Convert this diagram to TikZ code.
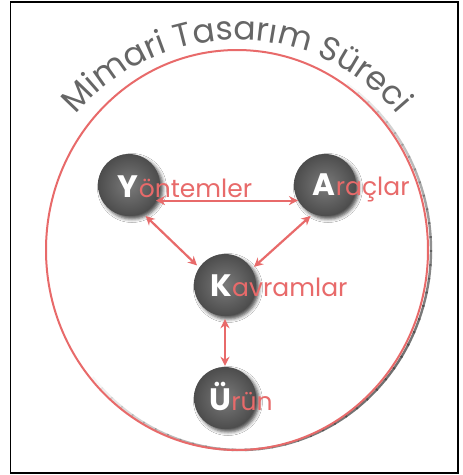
\documentclass[tikz,border=0pt]{standalone}
\usepackage{fontspec}
\setmainfont{Poppins}
\usetikzlibrary{arrows.meta,shadows.blur,decorations.text}
\definecolor{rd}{HTML}{E86A6A}
\definecolor{tgray}{HTML}{666666}
\tikzset{
  disk/.style={circle, minimum size=62pt, inner sep=0pt, inner color=black!52, outer color=black!70,
    blur shadow={shadow xshift=3pt, shadow yshift=-3pt, shadow blur radius=3.5pt, shadow opacity=70}},
  letter/.style={anchor=base, inner sep=0pt, text=white, font=\fontsize{31}{31}\selectfont\bfseries},
  lab/.style={anchor=base west, inner sep=0pt, text=rd, font=\fontsize{25}{25}\selectfont},
  arr/.style={rd, line width=2.2pt, {Stealth[length=9pt,width=9pt]}-{Stealth[length=9pt,width=9pt]}}
}
\begin{document}
\begin{tikzpicture}[x=1pt,y=1pt]
\useasboundingbox (0,0) rectangle (463,-475);
\fill[white] (0,0) rectangle (463,-475);
\draw[black, line width=1.5pt] (10.5,-2) rectangle (458,-473);

\coordinate (ec) at (237,-250);
% shadow of the big circle
\foreach \a in {56,52,...,-136} {
  \pgfmathsetmacro\op{0.75*cos(0.9*(\a+40))}
  \draw[black!75, line width=2.4pt, opacity=\op] ([xshift=3pt]ec) ++(\a:191 and 200)
     arc[start angle=\a, end angle=\a-4.5, x radius=191, y radius=200];
}
\draw[rd, line width=2pt] (ec) ellipse [x radius=191, y radius=200];

% curved title
\path[decorate, decoration={text along path, text color=tgray, text align=center,
   text={|\fontsize{33}{33}\selectfont|Mimari Tasarım Süreci}}]
   (ec) ++(150:210) arc[start angle=150, end angle=30, radius=210];

% disks
\node[disk] (y) at (129,-185) {};
\node[disk] (a) at (325,-185) {};
\node[disk] (k) at (225,-285) {};
\node[disk] (u) at (225,-398) {};

% letters and labels
\node[letter] (yl) at (128,-197) {Y};
\node[lab] (ylab) at (yl.base east) {öntemler};
\node[letter] (al) at (324,-195) {A};
\node[lab] (alab) at (al.base east) {raçlar};
\node[letter] (kl) at (221,-296) {K};
\node[lab] (klab) at (kl.base east) {avramlar};
\node[letter] (ul) at (220,-410) {Ü};
\node[lab] (ulab) at (ul.base east) {rün};

% arrows
\draw[arr] (y.-30) -- (a.-150);
\draw[arr] ([shift={(-60:4pt)}]y.-62) -- ([shift={(145:3pt)}]k.145);
\draw[arr] ([shift={(-115:3pt)}]a.-115) -- ([shift={(32:3pt)}]k.32);
\draw[arr] ([yshift=-3pt]k.south) -- ([yshift=1pt]u.north);
\end{tikzpicture}
\end{document}
